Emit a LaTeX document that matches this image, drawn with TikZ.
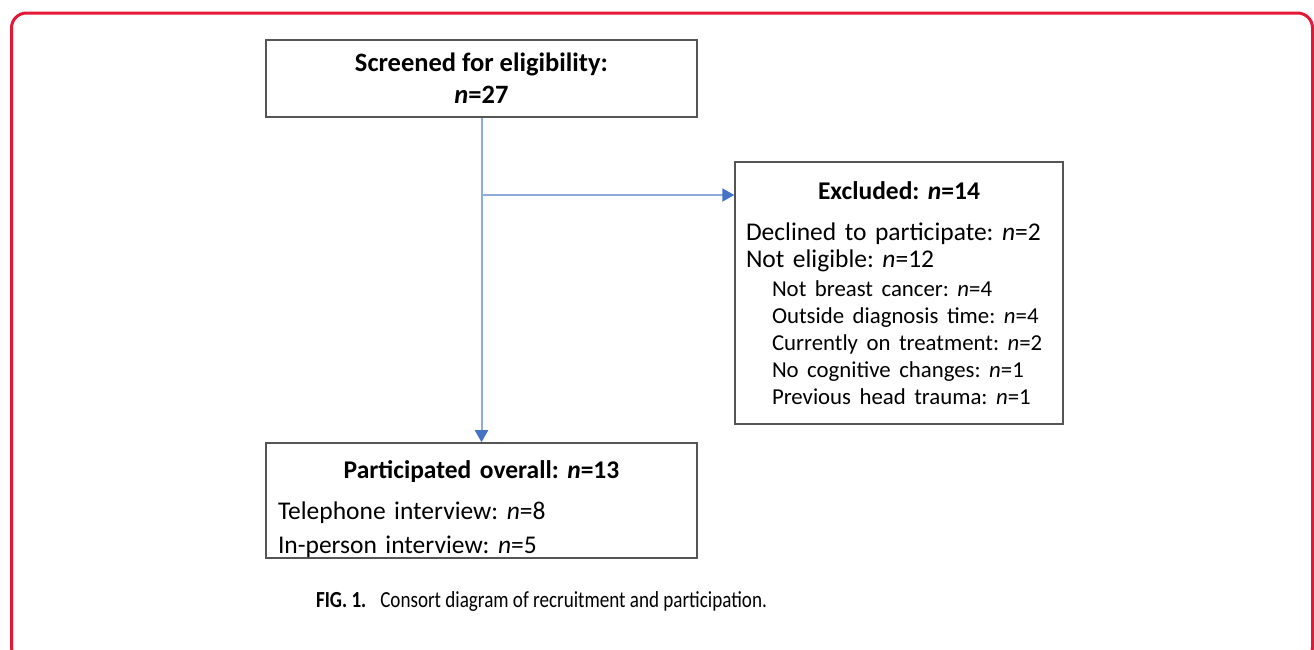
\documentclass[tikz,border=0pt]{standalone}
\usepackage{fontspec}
\setmainfont{Carlito}
\newfontfamily\captionfont[FakeStretch=0.83]{Carlito}
\usetikzlibrary{arrows.meta}

\definecolor{framered}{RGB}{226,24,54}
\definecolor{linkblue}{RGB}{143,170,220}
\definecolor{tipblue}{RGB}{68,114,196}
\definecolor{boxgray}{RGB}{85,85,85}

\newcommand{\nval}[1]{\textit{n}=#1}
\frenchspacing

\begin{document}
\begin{tikzpicture}[x=1pt,y=-1pt,
    box/.style={draw=boxgray,line width=1.5pt,inner sep=0pt,align=left},
    link/.style={draw=linkblue,line width=2pt,
        -{Triangle[length=12pt,width=13pt,color=tipblue]}},
    ]
    \useasboundingbox (0,0) rectangle (1314,649);
    \clip (0,0) rectangle (1314,649);

    % Outer frame
    \draw[framered,line width=3pt,rounded corners=15pt] (11.5,13) rectangle (1312.5,662);

    % Screened box
    \node[box,minimum width=431pt,minimum height=77pt,align=center,
          font=\fontsize{26.5}{32}\selectfont\bfseries]
        (screen) at (481.5,78.5) {Screened for eligibility:\\\nval{27}};

    % Excluded box
    \node[box,minimum width=328pt,minimum height=262pt,text width=306pt,
          font=\fontsize{25.5}{27}\selectfont]
        (excl) at (899,293) {%
        {\centering\bfseries Excluded: \nval{14}\par}
        \vspace{14pt}
        Declined to participate: \nval{2}\par
        Not eligible: \nval{12}\par
        \vspace{2pt}
        {\fontsize{22.8}{27}\selectfont\leftskip=26pt
        Not breast cancer: \nval{4}\par
        Outside diagnosis time: \nval{4}\par
        Currently on treatment: \nval{2}\par
        No cognitive changes: \nval{1}\par
        Previous head trauma: \nval{1}\par}
        \vspace{2pt}};

    % Participated box
    \node[box,minimum width=431pt,minimum height=115pt,text width=407pt,
          font=\fontsize{25.5}{34}\selectfont]
        (part) at (481.5,500.5) {%
        {\centering\bfseries\rule{0pt}{36pt}Participated overall: \nval{13}\par}
        \vspace{7pt}
        Telephone interview: \nval{8}\par
        In-person interview: \nval{5}};

    % Connectors
    \coordinate (split) at (482,195);
    \draw[link] (screen.south) -- (part.north);
    \draw[link] (split) -- (split -| excl.west);

    % Caption
    \node[font=\captionfont\fontsize{23}{27}\selectfont,anchor=base] (caption) at (541.5,607)
        {\textbf{FIG. 1.}\hspace{14pt}Consort diagram of recruitment and participation.};
\end{tikzpicture}
\end{document}
